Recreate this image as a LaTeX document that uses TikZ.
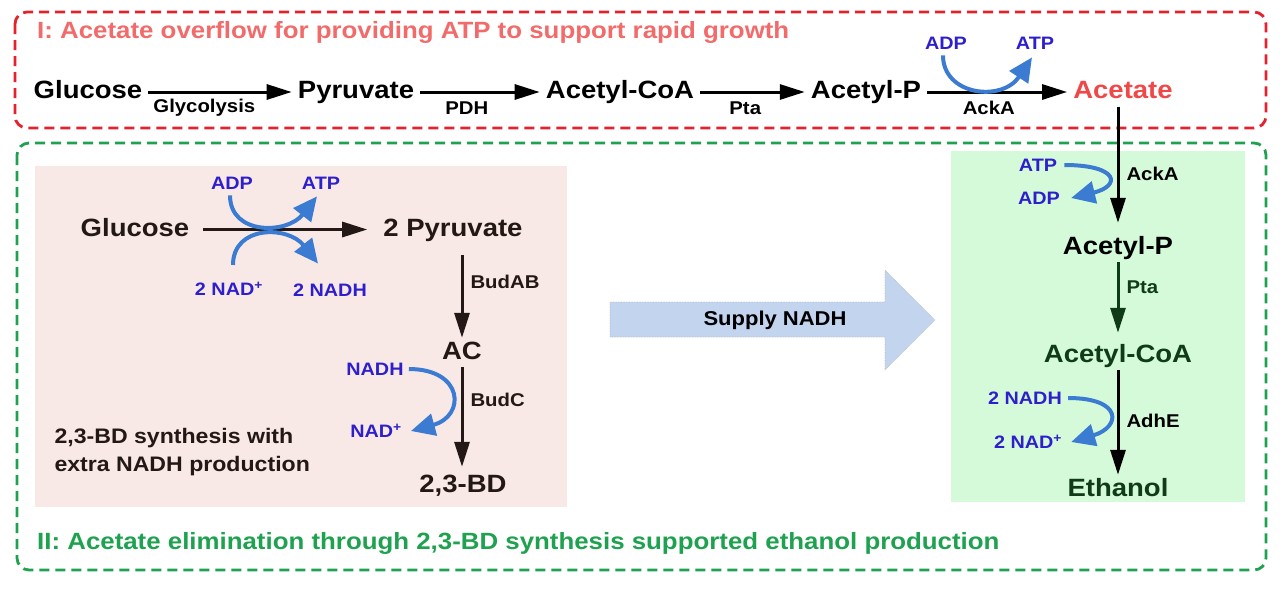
\documentclass[tikz,border=0pt]{standalone}
\usepackage{fontspec}
\setmainfont{Liberation Sans}[FakeStretch=1.1]
\usepackage{tikz}
\usetikzlibrary{arrows.meta,calc}
\definecolor{ovred}{HTML}{E4222C}
\definecolor{ovsalmon}{HTML}{F26B6B}
\definecolor{acered}{HTML}{F04848}
\definecolor{elgreen}{HTML}{1FA24F}
\definecolor{darkgreen}{HTML}{0F3B18}
\definecolor{cofblue}{HTML}{2E1FCC}
\definecolor{curveblue}{HTML}{3B7BD2}
\definecolor{pinkfill}{HTML}{F8E9E7}
\definecolor{mintfill}{HTML}{D5FAD9}
\definecolor{arrowfill}{HTML}{C2D4EE}
\definecolor{inkbrown}{HTML}{231815}

\begin{document}
\begin{tikzpicture}[x=1pt,y=-1pt,
  met/.style={font=\fontsize{25}{30}\selectfont\bfseries, text height=18pt,
              text depth=5pt, inner xsep=6pt, inner ysep=3pt},
  enz/.style={font=\fontsize{18.5}{22}\selectfont\bfseries, inner sep=2pt},
  cof/.style={font=\fontsize{18}{22}\selectfont\bfseries, text=cofblue, inner sep=2pt},
  rxn/.style={line width=3pt, -{Triangle[length=25pt,width=15pt]}},
  cofarr/.style={curveblue, line width=4pt, -{Triangle[length=24pt,width=22pt]}},
  title/.style={font=\fontsize{23.5}{28}\selectfont\bfseries, anchor=west, inner sep=0pt},
  dashbox/.style={line width=2.8pt, dash pattern=on 10pt off 6pt, rounded corners=12pt}]

  \useasboundingbox (0,0) rectangle (1286,590);

  % Fonds des deux voies
  \fill[pinkfill] (35,166) rectangle (567,507);
  \fill[mintfill] (951,151) rectangle (1245,502);

  % Cadres en tirets
  \draw[dashbox,ovred] (15,12) rectangle (1266,128);
  \draw[dashbox,elgreen] (17,143) rectangle (1266,570);
  \node[title,text=ovsalmon] (titleI) at (37,32)
       {I: Acetate overflow for providing ATP to support rapid growth};
  \node[title,text=elgreen] (titleII) at (37,543)
       {II: Acetate elimination through 2,3-BD synthesis supported ethanol production};

  % Voie I
  \node[met] (glcI) at (88,92) {Glucose};
  \node[met] (pyrI) at (356,92) {Pyruvate};
  \node[met] (accoaI) at (620,92) {Acetyl-CoA};
  \node[met] (acpI) at (866,92) {Acetyl-P};
  \node[met,text=acered] (aceI) at (1123,92) {Acetate};
  \foreach \a/\b/\e/\p in {glcI/pyrI/Glycolysis/0.39, pyrI/accoaI/PDH/0.39,
      accoaI/acpI/Pta/0.43, acpI/aceI/AckA/0.44} {
    \draw[rxn] (\a) -- (\b) node[enz,pos=\p,yshift=-16pt] (lab\a) {\e};
  }
  \node[cof] (adpI) at (946,43) {ADP};
  \node[cof] (atpI) at (1035,43) {ATP};
  \draw[cofarr] ([xshift=-3pt,yshift=-4pt]adpI.south) .. controls +(0,40) and +(-30,45)
        .. ([xshift=-3pt,yshift=-6pt]atpI.south);

  % 2,3-BD
  \node[met,text=inkbrown] (glcP) at (135,229.5) {Glucose};
  \node[met,text=inkbrown] (pyrP) at (453,229.5) {2 Pyruvate};
  \node[met,text=inkbrown] (acP) at (462,352.5) {AC};
  \node[met,text=inkbrown] (bdP) at (463,485.5) {2,3-BD};
  \draw[rxn,inkbrown,shorten <=8pt,shorten >=10pt] (glcP) -- (pyrP);
  \draw[rxn,inkbrown,shorten <=11pt] (acP.north |- pyrP.south) -- (acP.north)
        node[enz,text=inkbrown,right=5pt,pos=0.40] (budab) {BudAB};
  \draw[rxn,inkbrown,shorten >=4pt] (acP.south) -- (acP.south |- bdP.north)
        node[enz,text=inkbrown,right=5pt,pos=0.32] (budc) {BudC};

  \node[cof] (adpP) at (232,183) {ADP};
  \node[cof] (atpP) at (321,183) {ATP};
  \node[cof] (nadP) at (229,289) {2 NAD\textsuperscript{+}};
  \node[cof] (nadhP) at (330,290) {2 NADH};
  \draw[cofarr] ([xshift=-2pt,yshift=-4pt]adpP.south) .. controls +(0,40) and +(-30,38)
        .. ([xshift=-4pt,yshift=-5pt]atpP.south);
  \draw[cofarr] ([xshift=4pt,yshift=15pt]nadP.north) .. controls +(0,-40) and +(-30,-38)
        .. ([xshift=-12pt,yshift=18pt]nadhP.north);

  \node[cof] (nadhP2) at (375,369) {NADH};
  \node[cof] (nadP2) at (376,431) {NAD\textsuperscript{+}};
  \draw[cofarr] ([xshift=3pt]nadhP2.east) .. controls +(55,0) and +(55,-15)
        .. ([xshift=7pt]nadP2.east);

  \node[font=\fontsize{21}{28}\selectfont\bfseries,align=left,anchor=west,
        text=inkbrown] (note) at (51,452) {2,3-BD synthesis with\\extra NADH production};

  % Fleche NADH
  \filldraw[fill=arrowfill,draw=gray!50,densely dotted,line width=0.6pt]
    (610,302) -- (885,302) -- (885,270) -- (935,320) -- (885,370) -- (885,337)
    -- (610,337) -- cycle;
  \node[font=\fontsize{20}{24}\selectfont\bfseries] (supply) at (775,320) {Supply NADH};

  % Ethanol
  \node[met] (acpG) at (1118,247.5) {Acetyl-P};
  \node[met,text=darkgreen] (accoaG) at (1118,355.5) {Acetyl-CoA};
  \node[met,text=darkgreen] (etohG) at (1118,489.5) {Ethanol};
  \draw[rxn,shorten >=10pt] (aceI.south -| acpG.north) -- (acpG.north)
        node[enz,right=5pt,pos=0.53] (ackaG) {AckA};
  \draw[rxn,darkgreen,shorten >=8pt] (acpG) -- (accoaG)
        node[enz,right=5pt,pos=0.32] (ptaG) {Pta};
  \draw[rxn] (accoaG) -- (etohG)
        node[enz,right=5pt,pos=0.48] (adheG) {AdhE};

  \node[cof] (atpG) at (1038,165) {ATP};
  \node[cof] (adpG) at (1039,198) {ADP};
  \draw[cofarr] ([xshift=5pt]atpG.east) .. controls +(55,0) and +(50,-12)
        .. ([xshift=9pt]adpG.east);
  \node[cof] (nadhG) at (1025,398) {2 NADH};
  \node[cof] (nadG) at (1028,442) {2 NAD\textsuperscript{+}};
  \draw[cofarr] ([xshift=4pt]nadhG.east) .. controls +(55,0) and +(50,-15)
        .. ([xshift=7pt]nadG.east);

\end{tikzpicture}
\end{document}
